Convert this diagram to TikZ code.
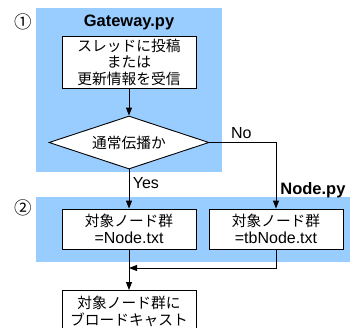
\documentclass[tikz,border=0pt]{standalone}
\usepackage{fontspec}
\setmainfont{Liberation Sans}
\newfontfamily\jp[Scale=0.92]{Noto Sans CJK JP}
\usetikzlibrary{arrows.meta,shapes.geometric}
\definecolor{areablue}{RGB}{153,204,255}
\tikzset{
  area/.style={fill=areablue,draw=none},
  stepbox/.style={draw,fill=white,line width=0.9pt,minimum width=134pt,
    inner sep=2pt,align=center,font=\fontsize{16}{16.5}\selectfont},
  decision/.style={draw,fill=white,line width=0.9pt,diamond,aspect=3,inner sep=0pt,
    minimum width=160pt,minimum height=53pt,font=\fontsize{16}{16.5}\selectfont},
  flow/.style={line width=0.9pt,-{Triangle[length=8pt,width=6pt]}},
  lbl/.style={font=\fontsize{16}{17}\selectfont},
  num/.style={font=\jp\fontsize{19}{20}\selectfont},
}
\begin{document}
\begin{tikzpicture}[x=1pt,y=-1pt]
\useasboundingbox (0,0) rectangle (350,327);
% shaded areas
\fill[area] (36,8) rectangle (222,172);
\fill[area] (36,197) rectangle (350,262);
\node[num] (one) at (23,22) {①};
\node[num] (two) at (23,208) {②};
\node[lbl,font=\bfseries\fontsize{16.5}{17}\selectfont] (gw) at (129,22) {Gateway.py};
\node[lbl,font=\bfseries\fontsize{16.5}{17}\selectfont,anchor=east] (nd) at (349,190) {Node.py};
% steps
\node[stepbox,minimum height=52pt] (post) at (129,62)
  {\jp スレッドに投稿\\\jp または\\\jp 更新情報を受信};
\node[decision] (check) at (129,142.5) {\jp 通常伝播か};
\node[stepbox,minimum height=40pt] (normal) at (129,229)
  {\jp 対象ノード群\\=Node.txt};
\node[stepbox,minimum height=40pt] (tb) at (276,229)
  {\jp 対象ノード群\\=tbNode.txt};
\node[stepbox,minimum height=42pt,anchor=north] (bcast) at (129,290)
  {\jp 対象ノード群に\\\jp ブロードキャスト};
\coordinate (merge) at (129,268);
% connectors
\draw[flow] (post) -- (check);
\draw[flow] (check) -- node[lbl,right,pos=0.35] (yes) {Yes} (normal);
\draw[flow] (check.east) -| node[lbl,above,pos=0.24] (no) {No} (tb.north);
\draw[flow] (tb.south) |- (merge);
\draw[flow] (normal) -- (bcast);
\end{tikzpicture}
\end{document}
